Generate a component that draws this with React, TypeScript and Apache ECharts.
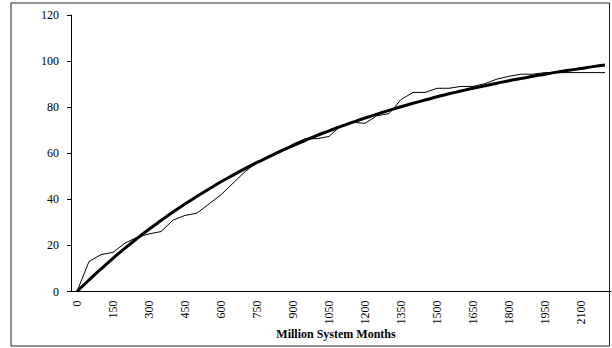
import React, { useEffect, useRef } from "react";
import * as echarts from "echarts";

// Cumulative count against exposure (million system months), one category every 50
const months = [
  "0", "50", "100", "150", "200", "250", "300", "350", "400", "450",
  "500", "550", "600", "650", "700", "750", "800", "850", "900", "950",
  "1000", "1050", "1100", "1150", "1200", "1250", "1300", "1350", "1400", "1450",
  "1500", "1550", "1600", "1650", "1700", "1750", "1800", "1850", "1900", "1950",
  "2000", "2050", "2100", "2150", "2200",
];

// Observed cumulative values
const observed = [
  0, 13, 16, 17, 21, 23.5, 25, 26, 31, 33,
  34, 38, 42, 47, 52, 56, 58.6, 60.5, 64, 66.3,
  66.3, 67.3, 72, 73.4, 73, 76.3, 77.2, 83.3, 86.4, 86.4,
  88.2, 88.2, 89, 89, 90.2, 92.2, 93.4, 94.3, 94.3, 95,
  95, 95, 95, 95, 95,
];

// Fitted growth curve
const fitted = [
  0, 5.0, 9.8, 14.4, 18.8, 23.0, 27.0, 30.8, 34.5, 38.0,
  41.3, 44.5, 47.6, 50.5, 53.3, 56.0, 58.5, 61.0, 63.3, 65.5,
  67.7, 69.7, 71.7, 73.5, 75.3, 77.0, 78.6, 80.2, 81.7, 83.1,
  84.5, 85.8, 87.0, 88.2, 89.3, 90.4, 91.5, 92.4, 93.4, 94.3,
  95.2, 96.0, 96.8, 97.6, 98.3,
];

const yTicks = { min: 0, max: 120, interval: 20 };
const xTitle = "Million System Months";

const FONT = "'Liberation Serif', 'Times New Roman', serif";

export default function App() {
  const ref = useRef<HTMLDivElement>(null);

  useEffect(() => {
    if (!ref.current) return;
    const chart = echarts.init(ref.current, undefined, { renderer: "svg" });
    chart.setOption({
      animation: false,
      backgroundColor: "#ffffff",
      grid: { left: 71, top: 15, width: 540, height: 276.5, containLabel: false },
      xAxis: {
        type: "category",
        data: months,
        boundaryGap: true,
        axisLine: { lineStyle: { color: "#000", width: 1 } },
        axisTick: { interval: 0, length: 4, lineStyle: { color: "#000" } },
        axisLabel: {
          interval: 2,
          rotate: 90,
          margin: 9,
          color: "#000",
          fontFamily: FONT,
          fontSize: 12,
        },
        splitLine: { show: false },
      },
      yAxis: {
        type: "value",
        min: yTicks.min,
        max: yTicks.max,
        interval: yTicks.interval,
        axisLine: { show: true, lineStyle: { color: "#000", width: 1 } },
        axisTick: { show: true, length: 4, lineStyle: { color: "#000" } },
        axisLabel: { margin: 12, color: "#000", fontFamily: FONT, fontSize: 12 },
        splitLine: { show: false },
      },
      graphic: [
        {
          type: "rect",
          shape: { x: 11, y: 3, width: 598.5, height: 343 },
          style: { fill: "none", stroke: "#222", lineWidth: 1 },
          silent: true,
          z: -1,
        },
        {
          type: "text",
          x: 336,
          y: 328,
          style: {
            text: xTitle,
            fill: "#000",
            font: `bold 12px ${FONT}`,
            align: "center",
            verticalAlign: "top",
          },
        },
      ],
      series: [
        {
          type: "line",
          data: observed,
          symbol: "none",
          lineStyle: { color: "#000", width: 1 },
          z: 2,
        },
        {
          type: "line",
          data: fitted,
          symbol: "none",
          smooth: true,
          lineStyle: { color: "#000", width: 3 },
          z: 3,
        },
      ],
    });
    return () => chart.dispose();
  }, []);

  return (
    <div
      ref={ref}
      style={{ position: "absolute", left: 0, top: 0, width: 612, height: 348 }}
    />
  );
}
